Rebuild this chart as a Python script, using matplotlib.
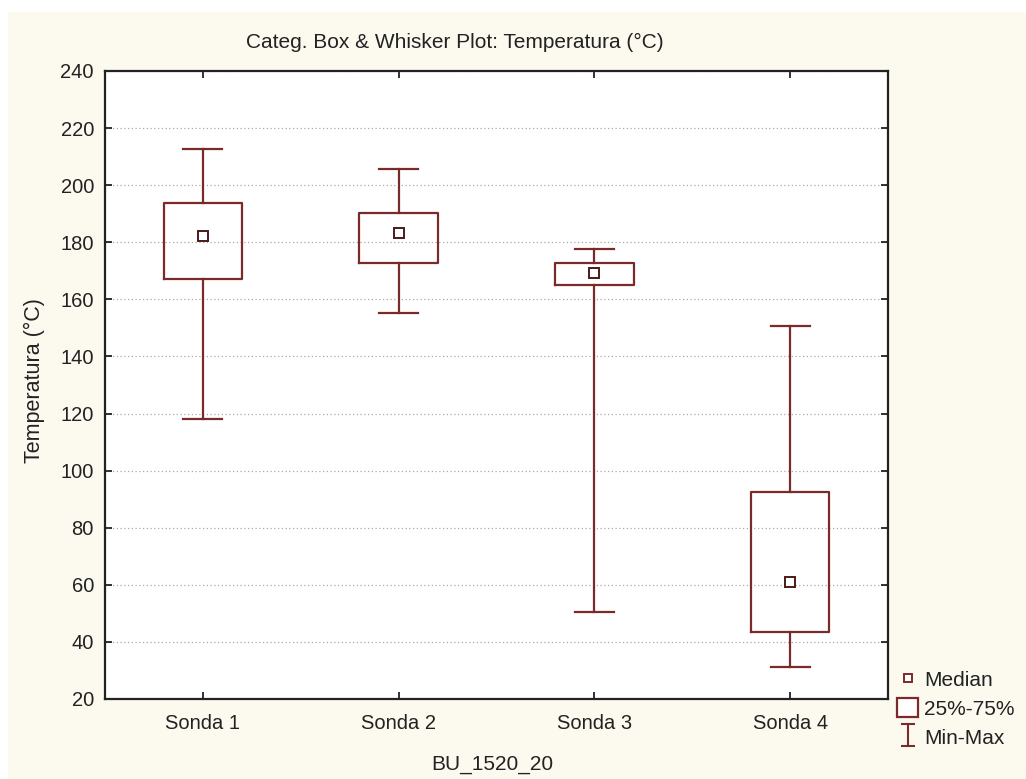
import matplotlib
matplotlib.use("Agg")
import matplotlib.pyplot as plt
from matplotlib.lines import Line2D
from matplotlib.patches import Patch, Rectangle
from matplotlib.path import Path

plt.rcParams['font.family'] = ['Liberation Sans', 'DejaVu Sans']

# data
categories = ["Sonda 1", "Sonda 2", "Sonda 3", "Sonda 4"]
medians = [182.3, 183.1, 169.1, 60.9]
q1 = [167.0, 172.6, 165.0, 43.4]
q3 = [193.9, 190.1, 172.6, 92.4]
mins = [118.1, 155.1, 50.5, 31.3]
maxs = [212.6, 205.6, 177.6, 150.8]

dark_red = "#7a2a2a"
bg = "#fcf9ef"
txt = "#222222"

fig = plt.figure(figsize=(10.26, 7.79), dpi=100)
fig.patch.set_facecolor("white")
# beige panel behind everything (Statistica-style)
fig.patches.append(Rectangle((8 / 1026, 0), 1, 767 / 779, transform=fig.transFigure,
                             facecolor=bg, edgecolor="none", zorder=-10))

ax = fig.add_axes([105 / 1026, 80 / 779, 783 / 1026, 628 / 779])
ax.set_facecolor("white")

stats = []
for i, name in enumerate(categories):
    stats.append({"label": name, "med": medians[i], "q1": q1[i], "q3": q3[i],
                  "whislo": mins[i], "whishi": maxs[i], "mean": medians[i], "fliers": []})

positions = list(range(1, len(categories) + 1))
ax.bxp(stats, positions=positions, widths=0.4, showmeans=True, showfliers=False,
       capwidths=0.2,
       boxprops=dict(color=dark_red, linewidth=1.6),
       whiskerprops=dict(color=dark_red, linewidth=1.6),
       capprops=dict(color=dark_red, linewidth=1.6),
       medianprops=dict(linewidth=0),
       meanprops=dict(marker="s", markersize=7, markerfacecolor="white",
                      markeredgecolor="#4a1a1a", markeredgewidth=1.4))

ax.set_xlim(0.5, 4.5)
ax.set_ylim(20, 240)
ax.set_yticks(range(20, 241, 20))
ax.set_xticks(positions)
ax.set_xticklabels(categories)
ax.tick_params(direction="in", length=5, width=1.3, top=True, right=True,
               labelsize=14.5, colors=txt, pad=8)
ax.tick_params(axis="x", pad=11)
ax.grid(axis="y", linestyle=(0, (1, 2)), color="#a8a8a8", linewidth=0.9)
ax.set_axisbelow(True)
for s in ax.spines.values():
    s.set_linewidth(1.6)
    s.set_color(txt)

fig.text(455 / 1026, 1 - 42 / 779, "Categ. Box & Whisker Plot: Temperatura (°C)",
         ha="center", va="center", fontsize=15, color=txt)
fig.text(34 / 1026, 1 - 381 / 779, "Temperatura (°C)", rotation=90,
         ha="center", va="center", fontsize=15.5, color=txt)
fig.text(492 / 1026, 1 - 764 / 779, "BU_1520_20", ha="center", va="center",
         fontsize=15, color=txt)

# legend
ibeam = Path([(-0.65, 1), (0.65, 1), (0, 1), (0, -1), (-0.65, -1), (0.65, -1)],
             [Path.MOVETO, Path.LINETO, Path.MOVETO, Path.LINETO, Path.MOVETO, Path.LINETO])
handles = [
    Line2D([], [], linestyle="none", marker="s", markersize=6, markerfacecolor="white",
           markeredgecolor=dark_red, markeredgewidth=1.4),
    Patch(facecolor="white", edgecolor=dark_red, linewidth=1.6),
    Line2D([], [], linestyle="none", marker=ibeam, markersize=16, markerfacecolor="none",
           markeredgecolor=dark_red, markeredgewidth=1.5),
]
fig.legend(handles, ["Median", "25%-75%", "Min-Max"], loc="lower left",
           bbox_to_anchor=(889 / 1026, 23 / 779), frameon=False, fontsize=15,
           handlelength=1.0, handleheight=1.0, handletextpad=0.3, labelspacing=0.4,
           borderaxespad=0, labelcolor=txt)

fig.savefig("out.png", dpi=100, facecolor=fig.get_facecolor())
